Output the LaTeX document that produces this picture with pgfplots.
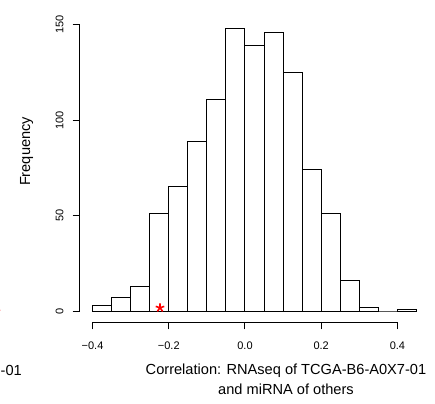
\documentclass[border=0pt]{standalone}
\usepackage{fontspec}
\setmainfont{Liberation Sans}
\usepackage{pgfplots}
\pgfplotsset{compat=1.18}

% histogram counts, left bin edges (bin width 0.05); last row closes the interval
\pgfplotstableread{
x     n
-0.40 3
-0.35 7
-0.30 13
-0.25 51
-0.20 65
-0.15 89
-0.10 111
-0.05 148
0.00  139
0.05  146
0.10  125
0.15  74
0.20  51
0.25  16
0.30  2
0.35  0
0.40  1
0.45  1
}\hist

\begin{document}
\begin{tikzpicture}
\useasboundingbox (-79.6pt,-80.7pt) rectangle (355.4pt,322.3pt);
\begin{axis}[
    scale only axis,
    width=349.8pt, height=305pt,
    xmin=-0.434, xmax=0.484,
    ymin=-5.92, ymax=153.92,
    axis x line*=bottom, axis y line*=left,
    axis line style={draw=none},
    tick align=outside,
    major tick length=7pt,
    every tick/.style={black, line width=1pt},
    xtick={-0.4,-0.2,0,0.2,0.4},
    xticklabels={−0.4,−0.2,0.0,0.2,0.4},
    ytick={0,50,100,150},
    yticklabels={0,50,100,150},
    ticklabel style={font=\fontsize{11}{13}\selectfont},
    xticklabel style={anchor=center, yshift=-16pt},
    yticklabel style={rotate=90, anchor=center, yshift=13pt},
    xlabel={Correlation: RNAseq of TCGA-B6-A0X7-01\\and miRNA of others},
    xlabel style={align=center, font=\fontsize{14.6}{19.5}\selectfont,
        at={(rel axis cs:0.59,0)}, anchor=center, yshift=-57pt},
    ylabel={Frequency},
    ylabel style={font=\fontsize{14.6}{19.5}\selectfont,
        at={(rel axis cs:0,0.56)}, anchor=center, yshift=53pt},
    clip=false,
]
\addplot[ybar interval, draw=black, fill=white, line width=1pt] table[x=x, y=n] {\hist};
\addplot[only marks, mark=star, mark size=4.5pt, red, line width=1.6pt] coordinates {(-0.223,1.7)};
\draw[line width=1pt] (axis cs:-0.4,-5.92) -- (axis cs:0.4,-5.92);
\draw[line width=1pt] (axis cs:-0.434,0) -- (axis cs:-0.434,150);
\end{axis}
% pieces of the neighbouring panel, cut off at the left edge
\node[anchor=east, font=\fontsize{14.6}{19.5}\selectfont, inner sep=0pt] at (-57.6pt,-48pt) {-01};
\node[red, font=\fontsize{14.6}{19.5}\selectfont\bfseries, inner sep=0pt] at (-82pt,9pt) {*};
\end{tikzpicture}
\end{document}
